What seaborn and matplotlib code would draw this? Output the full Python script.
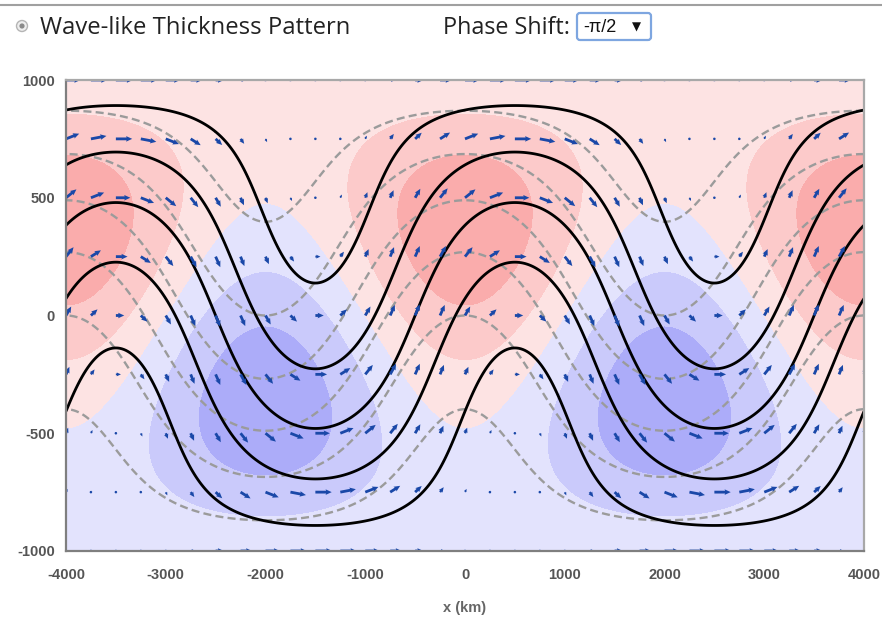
import numpy as np
import matplotlib
matplotlib.use("Agg")
import matplotlib.pyplot as plt
import seaborn as sns
from matplotlib.patches import Circle, FancyBboxPatch

sns.set_theme(style="white")
plt.rcParams['font.family'] = ['Liberation Sans', 'DejaVu Sans']
plt.rcParams['axes.unicode_minus'] = False

# domaine et onde
x_lim = [-4000, 4000]
y_lim = [-1000, 1000]
wavelength_km = 4000
lower_amp = 465            # amplitude de l'onde du niveau bas
phase_shift = -np.pi / 2   # décalage de l'onde d'épaisseur
adv_shear = 0.735          # poids du terme méridien dans l'advection

# niveaux des isolignes
lower_levels = [-775, -465, -155, 155, 465, 775]
upper_levels = [-780, -390, 0, 390, 780]
adv_levels = [-2.0, -1.1, -0.55, 0, 0.55, 1.1, 2.0]
adv_colors = ["#acacf9", "#cacafb", "#e3e3fd", "#fde3e3", "#fccaca", "#faacac"]

# grille des flèches
arrow_x = np.arange(-4000, 4001, 250)
arrow_y = np.arange(-1000, 1001, 250)

x_ticks = [-4000, -3000, -2000, -1000, 0, 1000, 2000, 3000, 4000]
y_ticks = [-1000, -500, 0, 500, 1000]

k = 2 * np.pi / wavelength_km
l = np.pi / (y_lim[1] - y_lim[0])


def lower(x, y):
    return -y + lower_amp * np.cos(k * x) * np.cos(l * y)


def thickness(x, y):
    return lower_amp * np.cos(k * x + phase_shift) * np.cos(l * y)


def upper(x, y):
    return lower(x, y) + thickness(x, y)


def advection(x, y):
    return np.cos(k * x) * np.cos(l * y) + adv_shear * np.sin(2 * l * y)


xs = np.linspace(x_lim[0], x_lim[1], 401)
ys = np.linspace(y_lim[0], y_lim[1], 201)
X, Y = np.meshgrid(xs, ys)

fig = plt.figure(figsize=(8.82, 6.2), dpi=100)
ax_w, ax_h = 798, 471
ax = fig.add_axes([66 / 882, 69 / 620, ax_w / 882, ax_h / 620])

ax.contourf(X, Y, advection(X, Y), levels=adv_levels, colors=adv_colors, zorder=1)
cs_low = ax.contour(X, Y, lower(X, Y), levels=lower_levels, colors="#9b9b9b",
                    linewidths=1.7, zorder=2)
cs_low.set_linestyle((0, (3.4, 1.8)))
ax.contour(X, Y, upper(X, Y), levels=upper_levels, colors="black",
           linewidths=2.0, negative_linestyles="solid", zorder=3)

# vent géostrophique du niveau haut
AX, AY = np.meshgrid(arrow_x, arrow_y)
h = 1.0
u = -(upper(AX, AY + h) - upper(AX, AY - h)) / (2 * h)
v = (upper(AX + h, AY) - upper(AX - h, AY)) / (2 * h)
ratio = (ax_h / (y_lim[1] - y_lim[0])) / (ax_w / (x_lim[1] - x_lim[0]))
ang = np.degrees(np.arctan2(v * ratio, u))
spd = np.hypot(u, v)
ax.quiver(AX.ravel(), AY.ravel(), spd.ravel(), np.zeros(spd.size), angles=ang.ravel(),
          scale_units="dots", scale=spd.max() / 17, units="dots", width=2.8,
          headwidth=2.0, headlength=2.2, headaxislength=2.0, minshaft=1.2,
          color="#1a48a8", pivot="tail", zorder=5)

ax.set_xlim(x_lim)
ax.set_ylim(y_lim)
ax.set_xticks(x_ticks)
ax.set_yticks(y_ticks)
ax.tick_params(length=0, labelsize=10.5, labelcolor="#555555")
ax.tick_params(axis="x", pad=12)
ax.tick_params(axis="y", pad=8)
for lab in ax.get_xticklabels() + ax.get_yticklabels():
    lab.set_fontweight("bold")
ax.set_xlabel("x (km)", fontsize=10.5, fontweight="bold", color="#666666", labelpad=14)
for name, s in ax.spines.items():
    s.set_color("#7f7f7f" if name in ("left", "bottom") else "#a8a8a8")
    s.set_linewidth(1.6)
    s.set_zorder(10)

# en-tête (bouton radio + menu)
hdr = fig.add_axes([0, 0, 1, 1], facecolor="none")
hdr.set_xlim(0, 882)
hdr.set_ylim(620, 0)
hdr.axis("off")
hdr.plot([0, 882], [5, 5], color="#a0a0a0", lw=1.5)
hdr.add_patch(Circle((22, 26), 5.5, fc="#eeeeee", ec="#b5b5b5", lw=1))
hdr.add_patch(Circle((22, 26), 2.6, fc="#8a8a8a", ec="none"))
hdr.text(40, 28, "Wave-like Thickness Pattern", fontsize=17.2, color="#222222",
         va="center", ha="left", family=["Open Sans", "DejaVu Sans"])
hdr.text(443, 28, "Phase Shift:", fontsize=16.8, color="#222222",
         va="center", ha="left", family=["Open Sans", "DejaVu Sans"])
hdr.add_patch(FancyBboxPatch((577, 13), 74, 27, boxstyle="round,pad=0,rounding_size=3",
                             fc="white", ec="#7ea6e0", lw=1.6))
hdr.text(583, 27, "-π/2", fontsize=13, color="#111111", va="center", ha="left")
hdr.text(636, 27, "▼", fontsize=8.5, color="#111111", va="center", ha="center",
         family=["DejaVu Sans"])

fig.savefig("out.png", dpi=100)
